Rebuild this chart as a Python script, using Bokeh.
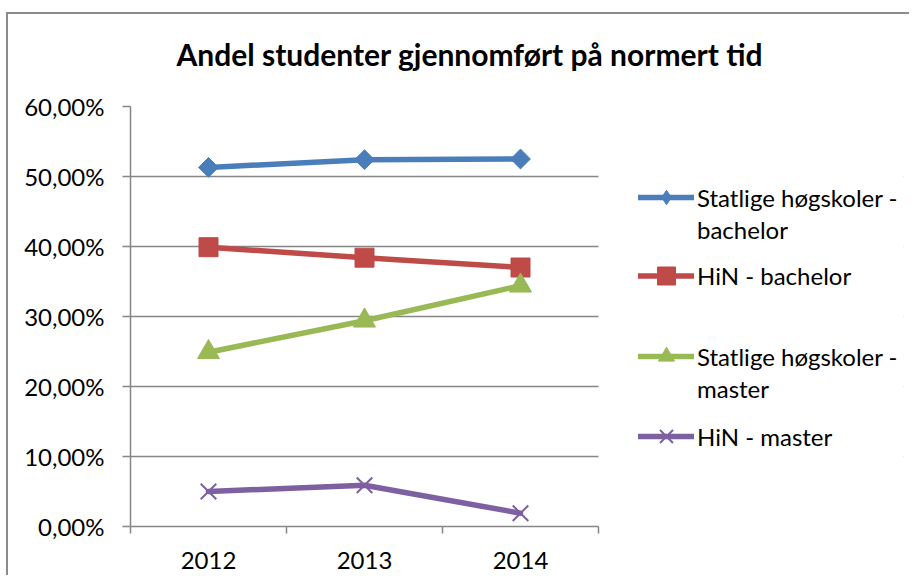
import math
from bokeh.plotting import figure
from bokeh.models import Range1d, FixedTicker, Legend, LegendItem, Title, BoxAnnotation
from bokeh.embed import file_html
from bokeh.resources import INLINE

years = ["2012", "2013", "2014"]
statlige_bachelor = [51.3, 52.4, 52.5]
hin_bachelor = [39.9, 38.4, 37.0]
statlige_master = [24.9, 29.4, 34.4]
hin_master = [5.0, 5.9, 1.9]
y_ticks = [0, 10, 20, 30, 40, 50, 60]
y_tick_labels = ["0,00%", "10,00%", "20,00%", "30,00%", "40,00%", "50,00%", "60,00%"]
series_names = [["Statlige høgskoler -", "bachelor"], ["HiN - bachelor"],
                ["Statlige høgskoler -", "master"], ["HiN - master"]]
title_text = "Andel studenter gjennomført på normert tid"

FONT = "Lato"
GRID = "#868686"
FRAME_COL = "#8c8c8c"

# layout (pixels)
W, H = 909, 575
LEFT, TOP, RIGHT, FRAME_H = 130, 106, 6, 420
PLOT_W = 468                      # width of the data area inside the frame
FRAME_W = W - LEFT - RIGHT
x_end = len(years) * FRAME_W / PLOT_W

xs = [i + 0.5 for i in range(len(years))]

p = figure(width=W, height=H, output_backend="svg", toolbar_location=None,
           x_range=Range1d(0, x_end), y_range=Range1d(y_ticks[0], y_ticks[-1]),
           min_border_left=LEFT, min_border_right=RIGHT, min_border_top=TOP,
           min_border_bottom=H - TOP - FRAME_H)
p.outline_line_color = None
p.background_fill_color = "white"
p.border_fill_alpha = 0
# outer chart frame (top and left edges) drawn behind the transparent canvas border
p.styles = {
    "background": (f"linear-gradient({FRAME_COL}, {FRAME_COL}) 6px 12px / 100% 2px no-repeat, "
                   f"linear-gradient({FRAME_COL}, {FRAME_COL}) 6px 12px / 2px 100% no-repeat, white"),
}

t = Title(text=title_text, align="left", offset=46, text_font=FONT, text_font_size="30px",
          text_font_style="bold", text_color="black", standoff=66, text_line_height=1.0,
          vertical_align="top")
p.add_layout(t, "above")

# x axis
xa = p.xaxis[0]
xa.bounds = (0, len(years))
xa.ticker = FixedTicker(ticks=xs, minor_ticks=list(range(len(years) + 1)))
xa.major_label_overrides = {x: y for x, y in zip(xs, years)}
xa.major_tick_line_color = None
xa.major_tick_out = 0
xa.major_tick_in = 0
xa.minor_tick_out = 7
xa.minor_tick_in = 0
xa.minor_tick_line_color = GRID
xa.minor_tick_line_width = 1.5
xa.axis_line_color = GRID
xa.axis_line_width = 1.5
xa.major_label_standoff = 18
xa.major_label_text_font = FONT
xa.major_label_text_font_size = "24px"
xa.major_label_text_color = "black"

ya = p.yaxis[0]
ya.ticker = FixedTicker(ticks=y_ticks)
ya.major_label_overrides = {v: s for v, s in zip(y_ticks, y_tick_labels)}
ya.major_tick_out = 8
ya.major_tick_in = 0
ya.major_tick_line_color = GRID
ya.major_tick_line_width = 1.5
ya.minor_tick_line_color = None
ya.axis_line_color = GRID
ya.axis_line_width = 1.5
ya.major_label_standoff = 18
ya.major_label_text_font = FONT
ya.major_label_text_font_size = "24px"
ya.major_label_text_color = "black"

p.xgrid.grid_line_color = None
p.ygrid.grid_line_color = GRID
p.ygrid.grid_line_width = 1.5

# hide gridlines to the right of the data area (legend zone)
p.add_layout(BoxAnnotation(left=len(years), fill_color="white", fill_alpha=1,
                           line_alpha=0, level="underlay"))

colors = ["#4a7ebb", "#be4b48", "#98b954", "#7d60a0"]
data = [statlige_bachelor, hin_bachelor, statlige_master, hin_master]
legend_glyph_h = [36, 45, 40, 46]
# row centres of the legend text lines, px above the frame bottom
legend_rows = [[329, 297], [251], [170, 138], [90]]
ROW_H = 48

for i, (vals, col, names) in enumerate(zip(data, colors, series_names)):
    lr = p.line(xs, vals, line_color=col, line_width=5.5, line_cap="round")
    if i == 0:
        # legend-sample diamond, hidden beneath the rotated squares in the plot
        mr = p.scatter(xs, vals, marker="diamond", size=17, fill_color=col, line_color=col)
        p.scatter(xs, vals, marker="square", angle=math.pi / 4, size=14,
                  fill_color=col, line_color=col)
    elif i == 1:
        mr = p.scatter(xs, vals, marker="square", size=19, fill_color=col, line_color=col)
    elif i == 2:
        mr = p.scatter(xs, vals, marker="triangle", size=22, fill_color=col, line_color=col)
    else:
        mr = p.scatter(xs, vals, marker="x", size=22, line_color=col, line_width=2)
    for j, (name, yc) in enumerate(zip(names, legend_rows[i])):
        item = LegendItem(label=name, renderers=[lr, mr] if j == 0 else [])
        leg = Legend(items=[item], location=(508, yc - ROW_H // 2),
                     label_text_font=FONT, label_text_font_size="24px",
                     label_text_color="black", glyph_width=56,
                     glyph_height=legend_glyph_h[i], label_height=ROW_H,
                     label_standoff=3, spacing=0, padding=0, margin=0,
                     border_line_color=None, background_fill_alpha=0)
        p.add_layout(leg, "center")

open("out.html", "w").write(file_html(p, INLINE))
